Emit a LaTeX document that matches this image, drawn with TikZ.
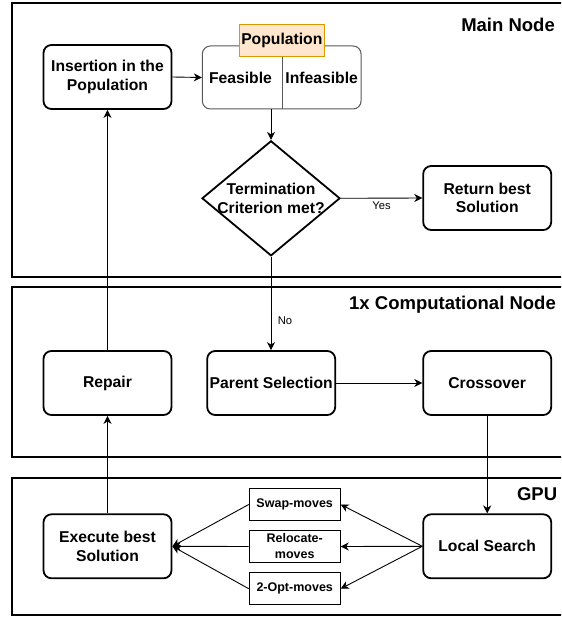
\documentclass[tikz,border=0pt]{standalone}
\usepackage{fontspec}
\setmainfont{Liberation Sans}
\usetikzlibrary{shapes.geometric,arrows.meta}
\definecolor{popfill}{HTML}{FFE6CC}
\definecolor{popdraw}{HTML}{D79B00}
\begin{document}
\begin{tikzpicture}[x=1pt,y=-1pt,
  every node/.style={font=\bfseries\fontsize{15.7}{18.7}\selectfont},
  stepbox/.style={draw, rounded corners=8pt, line width=1.8pt, minimum width=128pt, minimum height=64pt, align=center, inner sep=1pt},
  movebox/.style={draw, line width=1pt, minimum width=91pt, minimum height=32pt, align=center, inner sep=1pt, font=\bfseries\fontsize{12.5}{16}\selectfont},
  region/.style={draw, line width=1.7pt},
  regtitle/.style={anchor=base east, inner sep=0pt, font=\bfseries\fontsize{18.5}{21}\selectfont},
  conn/.style={line width=0.9pt, -{Stealth[length=8pt,width=8pt,inset=2.5pt]}},
  lbl/.style={font=\fontsize{11.2}{13}\selectfont}
]
\useasboundingbox (0,0) rectangle (561,617);
\clip (0,0) rectangle (561,617);
\fill[white] (0,0) rectangle (561,617);
% regions
\draw[region] (12.3,3.3) rectangle (580,277);
\draw[region] (12.3,287) rectangle (580,456.7);
\draw[region] (12.3,477.7) rectangle (580,614.7);
\node[regtitle] (tmain) at (555,31.7) {Main Node};
\node[regtitle] (tcomp) at (556,309) {1x Computational Node};
\node[regtitle] (tgpu) at (557.3,500) {GPU};
% main node
\node[stepbox] (ins) at (107.5,77) {Insertion in the\\Population};
\node[draw=black!65, line width=1pt, rounded corners=8pt, minimum width=158.7pt, minimum height=63pt, inner sep=0pt] (pop) at (281.7,77.5) {};
\draw[black!65, line width=1pt] (282,56.7) -- (pop.south -| 282,0);
\node[draw=popdraw, fill=popfill, line width=1pt, minimum width=85pt, minimum height=32.4pt, inner sep=0pt] (poph) at (281.8,40.5) {Population};
\node (feas) at (240.5,78) {Feasible};
\node (infeas) at (321.7,78) {Infeasible};
\node[draw, shape=diamond, line width=1.8pt, aspect=1.2, inner xsep=-4pt, inner ysep=-4pt, minimum width=138pt, minimum height=115pt, align=center] (term) at (271,198.3) {Termination\\Criterion met?};
\node[stepbox] (ret) at (487.2,198) {Return best\\Solution};
% computational node
\node[stepbox] (rep) at (107.5,383) {Repair};
\node[stepbox] (par) at (271.2,383) {Parent Selection};
\node[stepbox] (cro) at (487.2,383) {Crossover};
% gpu
\node[stepbox] (exe) at (107.5,546.3) {Execute best\\Solution};
\node[stepbox] (ls) at (487.2,546.3) {Local Search};
\node[movebox] (swap) at (294.7,504.5) {Swap-moves};
\node[movebox] (rel) at (294.7,546.5) {Relocate-\\moves};
\node[movebox] (opt) at (294.7,588.7) {2-Opt-moves};
% connectors
\draw[conn] (ins.east) -- (pop.west);
\draw[conn] (pop.south -| term.north) -- (term.north);
\draw[conn] (term.east) -- node[lbl, below=0pt] {Yes} (ret.west);
\draw[conn] (term.south) -- node[lbl, right=3pt, pos=0.69] {No} (term.south |- par.north);
\draw[conn] (par.east) -- (cro.west);
\draw[conn] (cro.south) -- (ls.north);
\draw[conn] (ls.west) -- (swap.east);
\draw[conn] (ls.west) -- (rel.east);
\draw[conn] (ls.west) -- (opt.east);
\draw[conn] (swap.west) -- (exe.east);
\draw[conn] (rel.west) -- (exe.east);
\draw[conn] (opt.west) -- (exe.east);
\draw[conn] (exe.north) -- (rep.south);
\draw[conn] (rep.north) -- (ins.south);
\end{tikzpicture}
\end{document}
